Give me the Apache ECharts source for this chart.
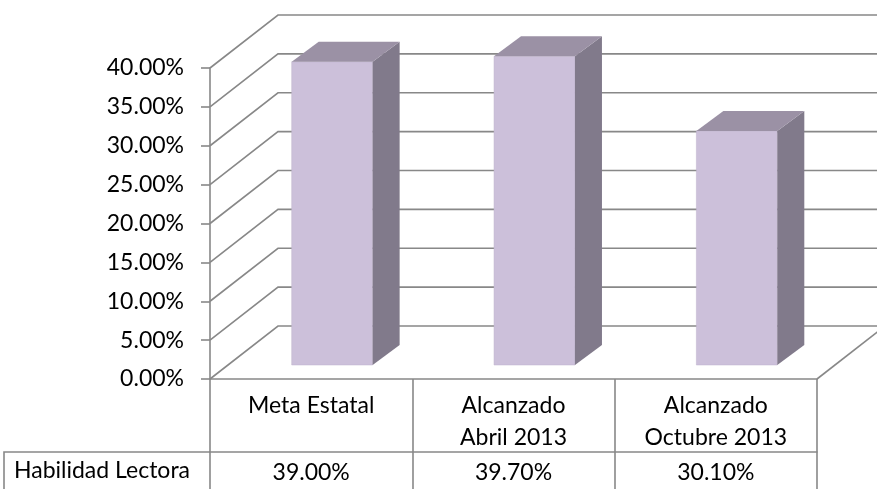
<!DOCTYPE html>
<html>
<head>
<meta charset="utf-8">
<script src="https://cdn.jsdelivr.net/npm/echarts@6/dist/echarts.min.js"></script>
<style>
  html, body { margin: 0; padding: 0; background: #fff; }
  #main { width: 877px; height: 489px; }
</style>
</head>
<body>
<div id="main"></div>
<script>
// data
var categories = ['Meta Estatal', 'Alcanzado\nAbril 2013', 'Alcanzado\nOctubre 2013'];
var values = [0.39, 0.397, 0.301];
var seriesName = 'Habilidad Lectora';
var yTicks = [0, 0.05, 0.10, 0.15, 0.20, 0.25, 0.30, 0.35, 0.40];

// look
var FONT = 'Lato';
var FONT_SIZE = 23;
var LINE = '#888888';
var WALL_DEPTH = [68, -53];   // back wall offset from front plane
var BAR_SHIFT = [21, -14];    // bar front face offset
var BAR_DEPTH = [27, -20];    // bar thickness
var GRID = { left: 210, top: 68, width: 607, height: 311 };

function pct(v) {
    return (v * 100).toFixed(2) + '%';
}

function renderWall(params, api) {
    var cs = params.coordSys;
    var y = api.coord([0, api.value(1)])[1];
    var children = [{
        type: 'polyline',
        shape: {
            points: [
                [cs.x, y],
                [cs.x + WALL_DEPTH[0], y + WALL_DEPTH[1]],
                [cs.x + cs.width + WALL_DEPTH[0], y + WALL_DEPTH[1]]
            ]
        },
        style: { stroke: LINE, lineWidth: 1.6, fill: null }
    }];
    // floor edge on the right
    if (api.value(1) === 0) {
        children.push({
            type: 'line',
            shape: {
                x1: cs.x + cs.width, y1: y,
                x2: cs.x + cs.width + WALL_DEPTH[0], y2: y + WALL_DEPTH[1]
            },
            style: { stroke: LINE, lineWidth: 1.6 }
        });
    }
    return { type: 'group', children: children };
}

function renderBar(params, api) {
    var i = api.value(0);
    var base = api.coord([i, 0]);
    var top = api.coord([i, api.value(1)]);
    var w = api.size([1, 0])[0] * 0.4;
    var x0 = base[0] - w / 2 + BAR_SHIFT[0];
    var yb = base[1] + BAR_SHIFT[1];
    var yt = top[1] + BAR_SHIFT[1];
    var dx = BAR_DEPTH[0], dy = BAR_DEPTH[1];
    return {
        type: 'group',
        children: [
            {
                type: 'rect',
                shape: { x: x0, y: yt, width: w, height: yb - yt },
                style: { fill: '#ccc0da', stroke: '#bfb3cc', lineWidth: 0.5 }
            },
            {
                type: 'polygon',
                shape: { points: [[x0 + w, yt], [x0 + w + dx, yt + dy], [x0 + w + dx, yb + dy], [x0 + w, yb]] },
                style: { fill: '#817a8b' }
            },
            {
                type: 'polygon',
                shape: { points: [[x0, yt], [x0 + dx, yt + dy], [x0 + w + dx, yt + dy], [x0 + w, yt]] },
                style: { fill: '#9b91a5' }
            }
        ]
    };
}

var chartDom = document.getElementById('main');
var myChart = echarts.init(chartDom, null, { renderer: 'canvas' });

var option = {
    animation: false,
    backgroundColor: '#fff',
    textStyle: { fontFamily: FONT },
    grid: {
        left: GRID.left,
        top: GRID.top,
        width: GRID.width,
        height: GRID.height
    },
    xAxis: [
        {
            type: 'category',
            data: categories,
            axisLine: { lineStyle: { color: LINE, width: 1.6 } },
            axisTick: {
                show: true,
                interval: 0,
                alignWithLabel: false,
                length: 112,
                lineStyle: { color: LINE, width: 1.6 }
            },
            axisLabel: {
                interval: 0,
                color: '#000',
                fontFamily: FONT,
                fontSize: FONT_SIZE,
                lineHeight: 32,
                margin: 11
            },
            splitLine: { show: false }
        },
        {
            // data table row
            type: 'category',
            position: 'bottom',
            offset: 73,
            data: values.map(pct),
            axisLine: { show: true, lineStyle: { color: LINE, width: 1.6 } },
            axisTick: { show: false },
            axisLabel: {
                interval: 0,
                color: '#000',
                fontFamily: FONT,
                fontSize: FONT_SIZE,
                margin: 9
            },
            splitLine: { show: false }
        }
    ],
    yAxis: {
        type: 'value',
        min: 0,
        max: 0.4,
        interval: 0.05,
        axisLine: { show: true, lineStyle: { color: LINE, width: 1.6 } },
        axisTick: { show: true, length: 9, lineStyle: { color: LINE, width: 1.6 } },
        axisLabel: {
            color: '#000',
            fontFamily: FONT,
            fontSize: FONT_SIZE,
            margin: 26,
            formatter: pct
        },
        splitLine: { show: false }
    },
    graphic: [
        {
            type: 'polyline',
            shape: {
                points: [
                    [4, GRID.top + GRID.height + 120],
                    [4, GRID.top + GRID.height + 73],
                    [GRID.left, GRID.top + GRID.height + 73]
                ]
            },
            style: { stroke: LINE, lineWidth: 1.6, fill: null }
        },
        {
            type: 'text',
            left: 14,
            top: GRID.top + GRID.height + 80,
            style: {
                text: seriesName,
                fill: '#000',
                font: FONT_SIZE + 'px ' + FONT
            }
        }
    ],
    series: [
        {
            type: 'custom',
            name: 'wall',
            clip: false,
            silent: true,
            z: 1,
            renderItem: renderWall,
            data: yTicks.map(function (t) { return [0, t]; })
        },
        {
            type: 'custom',
            name: seriesName,
            clip: false,
            z: 2,
            renderItem: renderBar,
            data: values.map(function (v, i) { return [i, v]; })
        }
    ]
};

option && myChart.setOption(option);
</script>
</body>
</html>
